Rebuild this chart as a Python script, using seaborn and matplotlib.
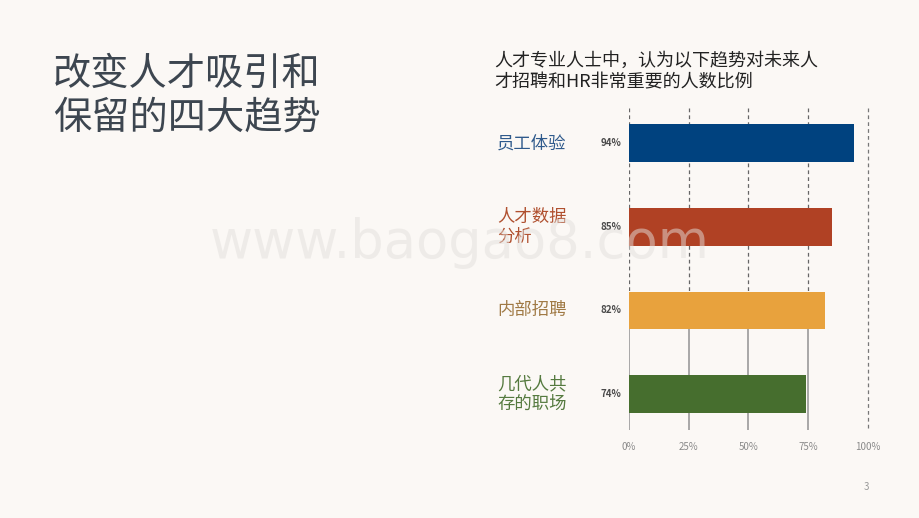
import matplotlib
matplotlib.use("Agg")
import matplotlib.pyplot as plt
import matplotlib.transforms as mtransforms
import seaborn as sns
import pandas as pd

# chart data
categories = ["员工体验", "人才数据\n分析", "内部招聘", "几代人共\n存的职场"]
values = [94, 85, 82, 74]
bar_colors = ["#00427F", "#B04124", "#E8A23D", "#466E2E"]
label_colors = ["#2F5A8C", "#B0502F", "#A07A45", "#557A3F"]
ticks = [0, 25, 50, 75, 100]
tick_labels = ["0%", "25%", "50%", "75%", "100%"]

title = "改变人才吸引和\n保留的四大趋势"
subtitle = "人才专业人士中，认为以下趋势对未来人\n才招聘和HR非常重要的人数比例"

sns.set_style("white")
plt.rcParams['font.family'] = ['Noto Sans CJK SC', 'DejaVu Sans']

bg = "#FBF8F5"
fig = plt.figure(figsize=(9.2, 5.18), dpi=100, facecolor=bg)
ax = fig.add_axes([629 / 920, 88 / 518, 239 / 920, 322 / 518])
ax.set_facecolor("none")

df = pd.DataFrame({"cat": categories, "val": values})
sns.barplot(data=df, x="val", y="cat", hue="cat", palette=bar_colors,
            saturation=1, orient="h", width=0.45, legend=False, ax=ax,
            zorder=3, edgecolor="none")

ax.set_xlim(0, 100)
ax.set_ylim(3.43, -0.42)

# grid lines: dashed in the upper part, solid in the lower part
for t in ticks[:-1]:
    ax.vlines(t, -0.42, 2.0, colors="#666666", linestyles=(0, (3, 2.5)), lw=0.9, zorder=1)
    ax.vlines(t, 2.0, 3.43, colors="#9A9A9A", linestyles="solid", lw=1.2, zorder=1)
ax.vlines(100, -0.42, 3.43, colors="#777777", linestyles=(0, (3, 2.5)), lw=0.9,
          zorder=1, clip_on=False)

for s in ax.spines.values():
    s.set_visible(False)
ax.set_xticks(ticks)
ax.set_xticklabels(tick_labels, fontsize=7, color="#8A8A8A")
ax.tick_params(axis="x", length=0, pad=9)
ax.set_yticks([])
ax.set_xlabel("")
ax.set_ylabel("")

# category labels and values to the left of the axes
trans = mtransforms.blended_transform_factory(fig.transFigure, ax.transData)
for i, (cat, v) in enumerate(zip(categories, values)):
    ax.text(497 / 920, i, cat, transform=trans, ha="left", va="center",
            fontsize=12.5, fontweight="light", color=label_colors[i], linespacing=1.15)
    ax.text(621 / 920, i, f"{v}%", transform=trans, ha="right", va="center",
            fontsize=7, fontweight="bold", color="#4A4A4A")

fig.text(53 / 920, 1 - 55 / 518, title, ha="left", va="top", fontsize=27.5,
         fontweight="light", color="#3D4650", linespacing=1.15)
fig.text(494 / 920, 1 - 52 / 518, subtitle, ha="left", va="top", fontsize=13,
         color="#222222", linespacing=1.25)
fig.text(460 / 920, 1 - 243 / 518, "www.baogao8.com", ha="center", va="center",
         fontsize=38, color="#E2DFDC", alpha=0.5, family="DejaVu Sans", zorder=10)
fig.text(866 / 920, 1 - 487 / 518, "3", ha="center", va="center", fontsize=7,
         color="#999999")

fig.savefig("out.png", dpi=100, facecolor=bg)
